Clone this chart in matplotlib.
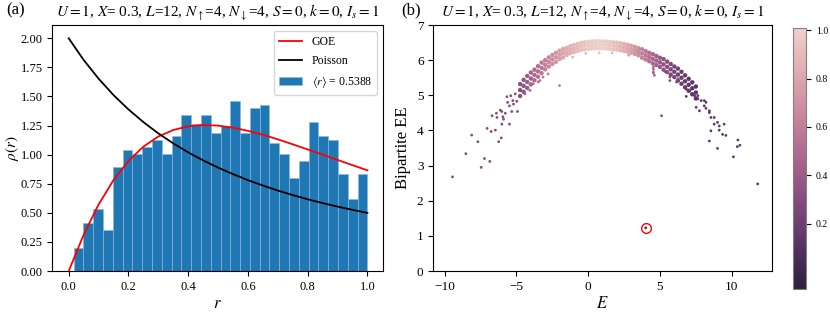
import matplotlib
matplotlib.use('Agg')
import matplotlib.pyplot as plt
import numpy as np
import seaborn as sns

plt.rcParams['font.family'] = 'serif'
plt.rcParams['font.serif'] = ['Liberation Serif', 'DejaVu Serif']
plt.rcParams['mathtext.fontset'] = 'stix'

title = r'$U=1$, $X$= 0.3, $L$=12, $N_\uparrow$=4, $N_\downarrow$=4, $S=0$, $k=0$, $I_s=1$'

# (a) level spacing ratio histogram (density), 30 bins from r_min to r_max
r_min, r_max = 0.0167, 1.0
hist_heights = [0.20, 0.41, 0.53, 0.35, 0.89, 1.04, 1.01, 1.07, 1.13, 1.01,
                1.16, 1.34, 1.26, 1.34, 1.19, 1.25, 1.46, 1.19, 1.40, 1.43,
                1.10, 1.01, 0.80, 0.95, 1.28, 1.16, 1.13, 0.83, 0.62, 0.83]
mean_r = 0.5388

r_curve = [0.0, 0.05, 0.1, 0.15, 0.2, 0.25, 0.3, 0.35, 0.4, 0.45, 0.5,
           0.55, 0.6, 0.65, 0.7, 0.75, 0.8, 0.85, 0.9, 0.95, 1.0]
goe_curve = [0.0, 0.312, 0.572, 0.782, 0.946, 1.069, 1.156, 1.212, 1.244, 1.255, 1.250,
             1.232, 1.205, 1.171, 1.132, 1.089, 1.045, 1.000, 0.955, 0.910, 0.866]
poisson_curve = [2.0, 1.814, 1.653, 1.512, 1.389, 1.280, 1.183, 1.097, 1.020, 0.951, 0.889,
                 0.833, 0.781, 0.735, 0.692, 0.653, 0.617, 0.584, 0.554, 0.526, 0.5]

# (b) entanglement vs energy: dense band (top / middle / bottom edge) + outliers
band_E = [-4.75, -4.5, -4.25, -4.0, -3.75, -3.5, -3.25, -3.0, -2.75, -2.5,
          -2.25, -2.0, -1.75, -1.5, -1.25, -1.0, -0.75, -0.5, -0.25, 0.0,
          0.25, 0.5, 0.75, 1.0, 1.25, 1.5, 1.75, 2.0, 2.25, 2.5,
          2.75, 3.0, 3.25, 3.5, 3.75, 4.0, 4.25, 4.5, 4.75, 5.0,
          5.25, 5.5, 5.75, 6.0, 6.25, 6.5, 6.75, 7.0, 7.25, 7.5]
band_top = [5.32, 5.44, 5.55, 5.65, 5.73, 5.83, 5.93, 6.00, 6.08, 6.15,
            6.21, 6.27, 6.32, 6.35, 6.40, 6.43, 6.46, 6.49, 6.51, 6.52,
            6.53, 6.54, 6.54, 6.54, 6.53, 6.52, 6.51, 6.50, 6.48, 6.46,
            6.44, 6.41, 6.38, 6.34, 6.31, 6.26, 6.21, 6.17, 6.12, 6.07,
            6.03, 5.96, 5.89, 5.82, 5.76, 5.67, 5.57, 5.47, 5.37, 5.25]
band_mid = [5.15, 5.27, 5.38, 5.48, 5.58, 5.68, 5.78, 5.87, 5.95, 6.02,
            6.08, 6.15, 6.20, 6.25, 6.30, 6.33, 6.36, 6.39, 6.41, 6.42,
            6.43, 6.44, 6.44, 6.44, 6.43, 6.42, 6.41, 6.40, 6.38, 6.36,
            6.34, 6.31, 6.28, 6.24, 6.19, 6.14, 6.09, 6.04, 5.99, 5.94,
            5.88, 5.81, 5.74, 5.67, 5.59, 5.50, 5.40, 5.30, 5.20, 5.08]
band_bot = [4.98, 5.10, 5.21, 5.31, 5.43, 5.53, 5.63, 5.74, 5.82, 5.89,
            5.95, 6.03, 6.08, 6.15, 6.20, 6.23, 6.26, 6.29, 6.31, 6.32,
            6.33, 6.34, 6.34, 6.34, 6.33, 6.32, 6.31, 6.30, 6.28, 6.26,
            6.24, 6.21, 6.18, 6.14, 6.07, 6.02, 5.97, 5.91, 5.86, 5.81,
            5.73, 5.66, 5.59, 5.52, 5.42, 5.33, 5.23, 5.13, 5.03, 4.91]
band_c = [0.33, 0.36, 0.40, 0.44, 0.48, 0.52, 0.56, 0.60, 0.64, 0.68,
          0.72, 0.76, 0.80, 0.83, 0.86, 0.89, 0.91, 0.93, 0.95, 0.97,
          0.98, 0.99, 1.00, 1.00, 0.99, 0.97, 0.95, 0.92, 0.89, 0.85,
          0.81, 0.77, 0.72, 0.67, 0.62, 0.57, 0.52, 0.47, 0.43, 0.39,
          0.35, 0.31, 0.27, 0.24, 0.21, 0.19, 0.17, 0.15, 0.14, 0.13]

out_E = [-5.67, -5.40, -5.09, -5.62, -5.26, -5.49, -5.21, -4.98, -6.02, -5.78,
         -5.33, -4.93, -6.40, -6.13, -6.70, -6.36, -5.90, -6.02, -5.49, -7.05,
         -6.77, -6.47, -5.95, -8.12, -7.69, -6.24, -6.06, -8.53, -7.23, -6.86,
         -9.46, -7.46,
         -4.41, -4.06, -3.83, -3.49, -3.37, -3.15, -2.80, -2.00,
         -1.08, -0.17, 0.76, 1.67, 2.82,
         4.54, 4.54, 4.61, 4.54, 4.54, 5.34, 5.69, 5.69, 6.26, 6.15,
         6.83, 7.06, 7.18, 6.83, 7.41, 7.64, 7.64, 7.87, 8.09, 8.21,
         7.52, 7.75, 8.09, 8.21, 8.44, 8.44, 8.55, 8.78, 8.78, 9.01,
         9.13, 9.47, 8.55, 9.13, 9.36, 9.59, 8.44, 10.43, 10.57, 10.39,
         9.01, 10.12, 5.11, 11.81, 4.01]
out_EE = [4.96, 4.99, 5.04, 4.80, 4.85, 4.70, 4.75, 4.83, 4.54, 4.49,
          4.54, 4.54, 4.49, 4.58, 4.42, 4.37, 4.32, 4.18, 4.18, 4.06,
          3.97, 4.01, 4.39, 3.87, 3.68, 3.68, 3.79, 3.34, 3.20, 3.12,
          2.68, 2.95,
          5.04, 5.14, 5.33, 5.38, 5.42, 5.52, 5.61, 5.28,
          6.09, 6.19, 6.21, 6.21, 6.14,
          5.74, 5.64, 5.57, 5.81, 5.66, 5.68, 5.52, 5.42, 5.47, 5.38,
          5.18, 5.14, 5.04, 4.97, 4.99, 4.99, 4.90, 4.85, 4.85, 4.80,
          4.66, 4.56, 4.70, 4.63, 4.51, 4.56, 4.37, 4.37, 4.18, 4.23,
          4.13, 4.18, 3.99, 4.01, 3.89, 3.86, 3.70, 3.73, 3.58, 3.54,
          3.49, 3.25, 4.42, 2.48, 1.23]
out_c = [0.30] * 32 + [0.45, 0.45, 0.48, 0.50, 0.52, 0.55, 0.58, 0.60,
                       0.85, 0.90, 0.95, 0.90, 0.75] + \
        [0.45] * 5 + [0.30] * 5 + [0.15] * 32 + [0.30, 0.15, 0.08]

highlight_E, highlight_EE = 4.01, 1.23

fig = plt.figure(figsize=(8.3, 3.13), dpi=100)
ax1 = fig.add_axes([0.063, 0.134, 0.398, 0.786])
ax2 = fig.add_axes([0.522, 0.134, 0.408, 0.786])
cax = fig.add_axes([0.9555, 0.077, 0.0157, 0.834])

edges = np.linspace(r_min, r_max, len(hist_heights) + 1)
ax1.plot(r_curve, goe_curve, color='red', lw=1.3, label='GOE')
ax1.plot(r_curve, poisson_curve, color='black', lw=1.3, label='Poisson')
ax1.bar(edges[:-1], hist_heights, width=np.diff(edges), align='edge',
        color='#1f77b4', edgecolor='#8fb8dc', linewidth=0.4, zorder=1,
        label=r'$\langle r \rangle$ = 0.5388')
ax1.set_xlim(-0.055, 1.051)
ax1.set_ylim(0, 2.114)
ax1.set_yticks(np.arange(0, 2.01, 0.25))
ax1.set_xlabel(r'$r$', fontsize=12, labelpad=2)
ax1.set_ylabel(r'$\rho(r)$', fontsize=11)
ax1.yaxis.set_label_coords(-0.094, 0.5)
ax1.tick_params(labelsize=9)
ax1.set_title(title, fontsize=11)
ax1.legend(loc='upper right', fontsize=8.5, labelspacing=0.6)

cmap = sns.cubehelix_palette(as_cmap=True, reverse=True)
norm = matplotlib.colors.Normalize(vmin=-0.07, vmax=1.01)
ax2.scatter(band_E * 3, band_top + band_mid + band_bot, c=band_c * 3,
            cmap=cmap, norm=norm, s=10, linewidths=0)
sc = ax2.scatter(out_E, out_EE, c=out_c, cmap=cmap, norm=norm, s=4, linewidths=0)
ax2.plot(highlight_E, highlight_EE, 'o', mfc='none', mec='red', ms=7, mew=1.0)
ax2.set_xlim(-10.8, 12.8)
ax2.set_ylim(0, 7)
ax2.set_xlabel(r'$E$', fontsize=12, labelpad=2)
ax2.set_ylabel('Bipartite EE', fontsize=12)
ax2.tick_params(labelsize=9.5)
ax2.set_title(title, fontsize=11)

cb = fig.colorbar(sc, cax=cax, ticks=[0.2, 0.4, 0.6, 0.8, 1.0])
cb.ax.tick_params(labelsize=7)
cb.outline.set_edgecolor('0.5')

fig.text(0.008, 0.955, '(a)', fontsize=12)
fig.text(0.484, 0.955, '(b)', fontsize=12)

fig.savefig('out.png', dpi=100)
